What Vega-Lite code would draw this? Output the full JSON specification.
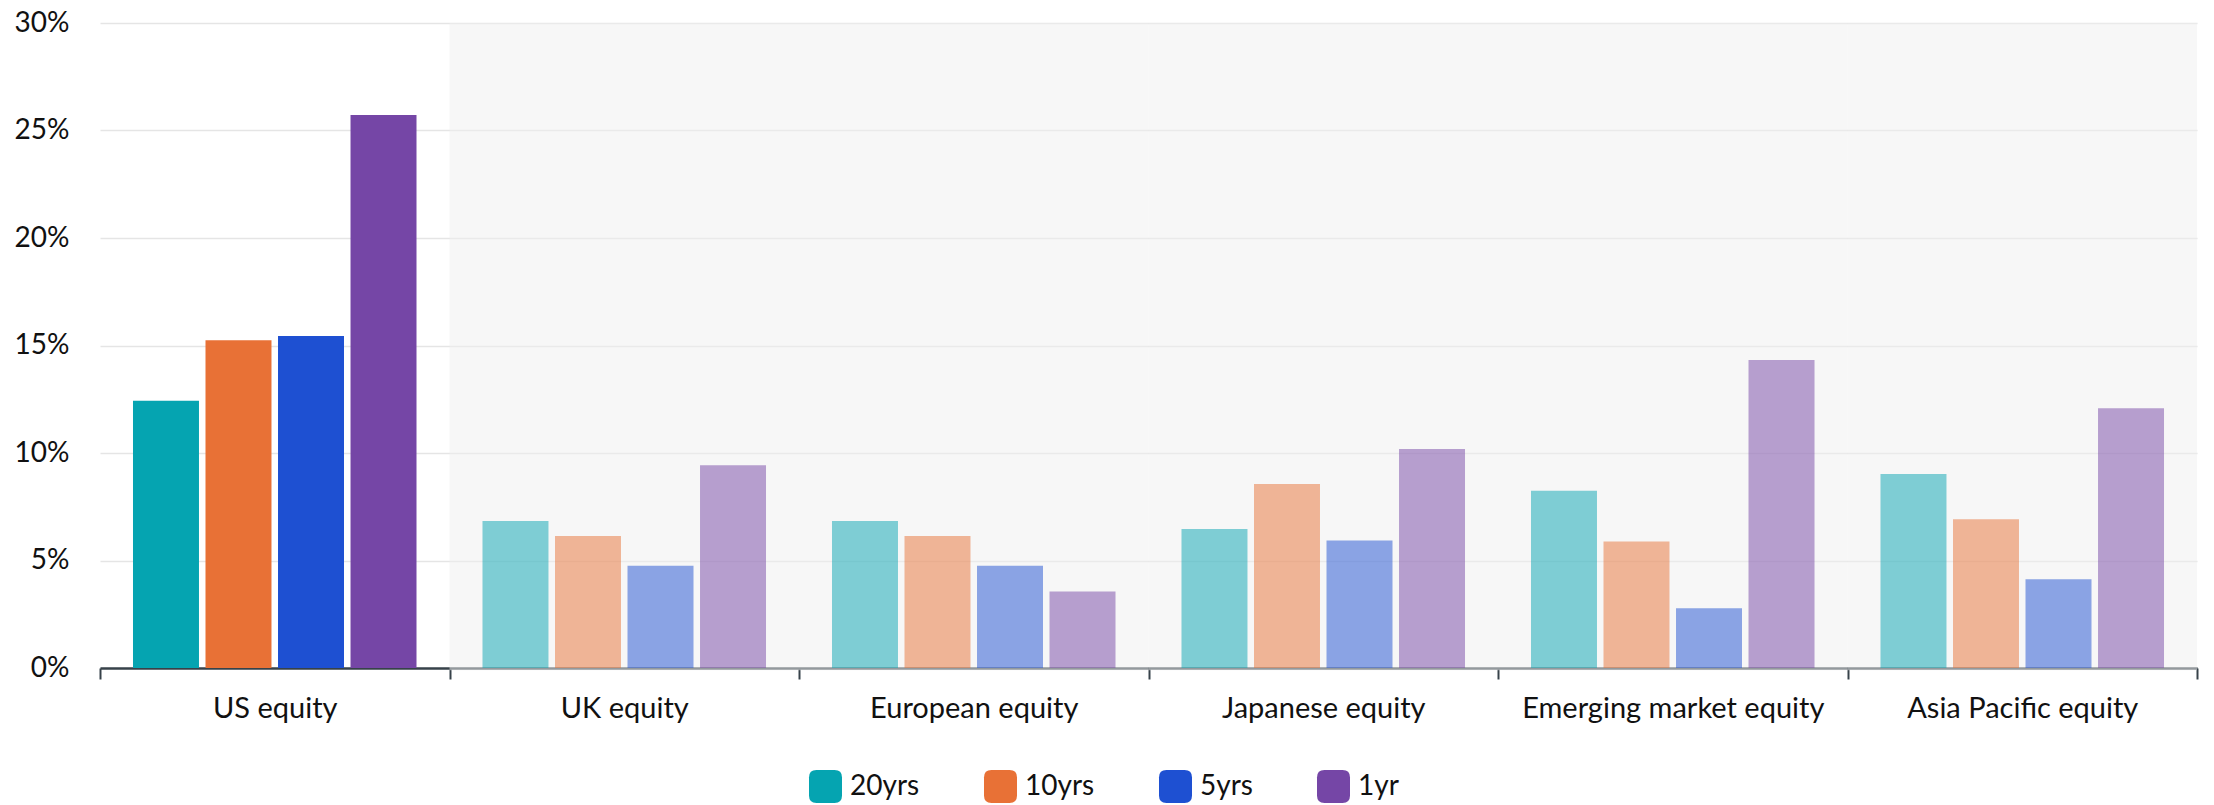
{
  "$schema": "https://vega.github.io/schema/vega-lite/v6.json",
  "width": 2097,
  "height": 645,
  "autosize": {"type": "none"},
  "padding": {"left": 100, "top": 23, "right": 17, "bottom": 137},
  "background": "white",
  "config": {"view": {"stroke": null}, "font": "Lato"},
  "data": {
    "values": [
      {"category": "US equity", "period": "20yrs", "value": 12.43},
      {"category": "US equity", "period": "10yrs", "value": 15.25},
      {"category": "US equity", "period": "5yrs", "value": 15.44},
      {"category": "US equity", "period": "1yr", "value": 25.72},
      {"category": "UK equity", "period": "20yrs", "value": 6.84},
      {"category": "UK equity", "period": "10yrs", "value": 6.14},
      {"category": "UK equity", "period": "5yrs", "value": 4.76},
      {"category": "UK equity", "period": "1yr", "value": 9.43},
      {"category": "European equity", "period": "20yrs", "value": 6.84},
      {"category": "European equity", "period": "10yrs", "value": 6.14},
      {"category": "European equity", "period": "5yrs", "value": 4.76},
      {"category": "European equity", "period": "1yr", "value": 3.56},
      {"category": "Japanese equity", "period": "20yrs", "value": 6.46},
      {"category": "Japanese equity", "period": "10yrs", "value": 8.56},
      {"category": "Japanese equity", "period": "5yrs", "value": 5.93},
      {"category": "Japanese equity", "period": "1yr", "value": 10.19},
      {"category": "Emerging market equity", "period": "20yrs", "value": 8.24},
      {"category": "Emerging market equity", "period": "10yrs", "value": 5.88},
      {"category": "Emerging market equity", "period": "5yrs", "value": 2.78},
      {"category": "Emerging market equity", "period": "1yr", "value": 14.33},
      {"category": "Asia Pacific equity", "period": "20yrs", "value": 9.02},
      {"category": "Asia Pacific equity", "period": "10yrs", "value": 6.92},
      {"category": "Asia Pacific equity", "period": "5yrs", "value": 4.13},
      {"category": "Asia Pacific equity", "period": "1yr", "value": 12.08}
    ]
  },
  "encoding": {
    "x": {
      "field": "category",
      "type": "nominal",
      "sort": null,
      "scale": {
        "domain": ["US equity", "UK equity", "European equity", "Japanese equity", "Emerging market equity", "Asia Pacific equity"],
        "paddingInner": 0,
        "paddingOuter": 0
      },
      "axis": {
        "title": null,
        "domain": true,
        "domainColor": "#37424A",
        "domainWidth": 2.5,
        "ticks": true,
        "tickBand": "extent",
        "tickColor": "#37424A",
        "tickWidth": 2,
        "tickSize": 11,
        "labelFont": "Lato",
        "labelFontSize": 29,
        "labelColor": "#111111",
        "labelPadding": 15,
        "labelAngle": 0,
        "labelLimit": 0,
        "grid": false
      }
    }
  },
  "layer": [
    {
      "transform": [{"filter": "datum.category !== 'US equity' && datum.period === '20yrs'"}],
      "mark": {"type": "bar", "color": "#EFEFEF", "opacity": 0.5},
      "encoding": {
        "y": {
          "datum": 30,
          "type": "quantitative",
          "scale": {"domain": [0, 30]},
          "axis": {
            "values": [0, 5, 10, 15, 20, 25, 30],
            "labelExpr": "datum.value + '%'",
            "title": null,
            "domain": false,
            "ticks": false,
            "grid": true,
            "gridColor": "#E5E5E5",
            "gridWidth": 1.5,
            "labelFont": "Lato",
            "labelFontSize": 28,
            "labelColor": "#111111",
            "labelPadding": 31
          }
        },
        "y2": {"datum": -0.1}
      }
    },
    {
      "mark": {"type": "bar"},
      "encoding": {
        "xOffset": {
          "field": "period",
          "type": "nominal",
          "sort": ["20yrs", "10yrs", "5yrs", "1yr"],
          "scale": {"paddingInner": 0.09, "paddingOuter": 0.455}
        },
        "y": {
          "field": "value",
          "type": "quantitative",
          "scale": {"domain": [0, 30]},
          "axis": {
            "values": [0, 5, 10, 15, 20, 25, 30],
            "labelExpr": "datum.value + '%'",
            "title": null,
            "domain": false,
            "ticks": false,
            "grid": true,
            "gridColor": "#E5E5E5",
            "gridWidth": 1.5,
            "labelFont": "Lato",
            "labelFontSize": 28,
            "labelColor": "#111111",
            "labelPadding": 31
          }
        },
        "color": {
          "field": "period",
          "type": "nominal",
          "sort": ["20yrs", "10yrs", "5yrs", "1yr"],
          "scale": {
            "domain": ["20yrs", "10yrs", "5yrs", "1yr"],
            "range": ["#05A4B1", "#E87136", "#1E50D2", "#7546A6"]
          },
          "legend": {
            "orient": "none",
            "legendX": 709,
            "legendY": 747,
            "direction": "horizontal",
            "title": null,
            "symbolType": "M -0.55 -1 L 0.55 -1 Q 1 -1 1 -0.55 L 1 0.55 Q 1 1 0.55 1 L -0.55 1 Q -1 1 -1 0.55 L -1 -0.55 Q -1 -1 -0.55 -1 Z",
            "symbolSize": 1089,
            "symbolOpacity": 1,
            "symbolStrokeWidth": 0,
            "labelFont": "Lato",
            "labelFontSize": 28,
            "labelColor": "#111111",
            "labelOffset": 8,
            "columnPadding": 64,
            "padding": 0
          }
        },
        "opacity": {
          "condition": {"test": "datum.category === 'US equity'", "value": 1},
          "value": 0.5
        }
      }
    }
  ]
}
